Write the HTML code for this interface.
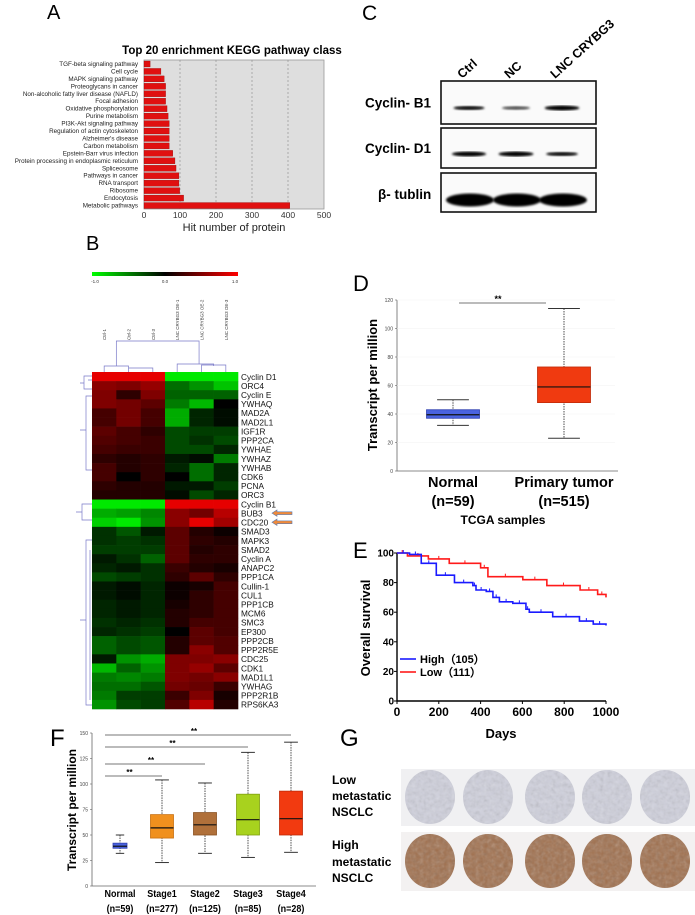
<!DOCTYPE html>
<html><head><meta charset="utf-8"><style>
body{margin:0;background:#fff}
svg{display:block;font-family:"Liberation Sans",Arial,sans-serif}
</style></head><body>
<svg id="fig" width="695" height="915" viewBox="0 0 695 915">
<defs>
<filter id="blur1"><feGaussianBlur stdDeviation="2"/></filter>
<filter id="blur2"><feGaussianBlur stdDeviation="1"/></filter>
<filter id="tex"><feTurbulence type="fractalNoise" baseFrequency="0.25" numOctaves="2" seed="3"/><feColorMatrix type="saturate" values="0"/><feComponentTransfer><feFuncA type="table" tableValues="0 0.35"/></feComponentTransfer><feComposite in2="SourceGraphic" operator="in"/></filter>
</defs>
<g id="gA"></g>
<g id="gB"></g>
<g id="gC"></g>
<g id="gD"></g>
<g id="gE"></g>
<g id="gF"></g>
<g id="gG"></g>
</svg>
<script>
// ---- Panel A data
const keggPathways=["TGF-beta signaling pathway","Cell cycle","MAPK signaling pathway","Proteoglycans in cancer","Non-alcoholic fatty liver disease (NAFLD)","Focal adhesion","Oxidative phosphorylation","Purine metabolism","PI3K-Akt signaling pathway","Regulation of actin cytoskeleton","Alzheimer's disease","Carbon metabolism","Epstein-Barr virus infection","Protein processing in endoplasmic reticulum","Spliceosome","Pathways in cancer","RNA transport","Ribosome","Endocytosis","Metabolic pathways"];
const keggHits=[17,47,56,60,60,60,64,67,70,70,70,70,80,86,89,97,97,99,110,405];
const keggTicks=[0,100,200,300,400,500];
// ---- Panel B data
const heatGenes=["Cyclin D1","ORC4","Cyclin E","YWHAQ","MAD2A","MAD2L1","IGF1R","PPP2CA","YWHAE","YWHAZ","YWHAB","CDK6","PCNA","ORC3","Cyclin B1","BUB3","CDC20","SMAD3","MAPK3","SMAD2","Cyclin A","ANAPC2","PPP1CA","Cullin-1","CUL1","PPP1CB","MCM6","SMC3","EP300","PPP2CB","PPP2R5E","CDC25","CDK1","MAD1L1","YWHAG","PPP2R1B","RPS6KA3"];
const heatSamples=["Ctrl-1","Ctrl-2","Ctrl-3","LNC CRYBG3 OE-1","LNC CRYBG3 OE-2","LNC CRYBG3 OE-3"];
const heatValues=[
[1,1,1,-.95,-.95,-.95],[.6,.55,.65,-.45,-.6,-.8],[.55,.2,.55,-.4,-.4,-.4],[.55,.5,.4,-.5,-.75,0],
[.3,.5,.3,-.7,-.15,-.05],[.3,.5,.3,-.7,-.15,-.05],[.4,.3,.2,-.3,-.25,-.25],[.35,.3,.25,-.3,-.2,-.3],
[.3,.25,.25,-.3,-.3,-.15],[.2,.15,.2,-.1,-.05,-.5],[.3,.15,.2,-.15,-.45,-.15],[.3,0,.2,0,-.45,-.15],
[.2,.15,.15,-.1,-.1,-.25],[.15,.15,.15,-.05,-.3,-.15],[-.95,-.95,-.95,1,1,1],[-.7,-.65,-.55,.6,.5,.8],
[-.85,-.95,-.6,.6,1,.7],[-.2,-.35,-.1,.4,.15,.05],[-.2,-.25,-.2,.4,.2,.15],[-.25,-.25,-.25,.4,.15,.2],
[-.1,-.2,-.4,.4,.2,.2],[-.15,-.1,-.2,.25,.15,.1],[-.3,-.25,-.2,.2,.4,.2],[-.1,-.05,-.15,.05,.1,.3],
[-.1,-.05,-.15,.05,.2,.3],[-.15,-.1,-.15,.1,.2,.3],[-.15,-.1,-.15,.15,.2,.3],[-.2,-.15,-.2,.15,.3,.3],
[-.15,-.2,-.25,0,.4,.3],[-.4,-.3,-.35,.15,.4,.35],[-.4,-.3,-.35,.15,.6,.35],[-.1,-.6,-.7,.55,.55,.6],
[-.75,-.4,-.6,.55,.65,.4],[-.5,-.55,-.5,.55,.5,.6],[-.45,-.45,-.35,.5,.45,.25],[-.5,-.25,-.25,.25,.55,.1],
[-.6,-.3,-.25,.35,.8,.15]];
// ---- Panel C data
const blotLanes=["Ctrl","NC","LNC CRYBG3"];
const blotProteins=["Cyclin- B1","Cyclin- D1","\u03b2- tublin"];
const blotIntensity=[[0.6,0.35,0.9],[0.85,0.9,0.6],[1,1,1]];
// ---- Panel D data
const dGroups=["Normal","Primary tumor"];
const dN=["(n=59)","(n=515)"];
const dMin=[32,23],dQ1=[37,48],dMed=[39.5,59],dQ3=[43,73],dMax=[50,114];
const dTicks=[0,20,40,60,80,100,120];
// ---- Panel E data
const eDaysHigh=[0,60,116,188,275,363,378,427,459,490,554,617,633,745,873,939,1000];
const eSurvHigh=[100,99,93,85,80,78,75,74,70,67,66,62,60,57,54,52,51];
const eDaysLow=[0,50,150,250,400,435,602,717,876,960,1000];
const eSurvLow=[100,98,96,93,90,84,82,78,75,72,70];
const eTicksX=[0,200,400,600,800,1000];
const eTicksY=[0,20,40,60,80,100];
// ---- Panel F data
const fGroups=["Normal","Stage1","Stage2","Stage3","Stage4"];
const fN=["(n=59)","(n=277)","(n=125)","(n=85)","(n=28)"];
const fMin=[32,23,32,28,33],fQ1=[37,47,50,50,50],fMed=[39,57,60,65,66],fQ3=[42,70,72,90,93],fMax=[50,104,101,131,141];
const fTicks=[0,25,50,75,100,125,150];

const NS="http://www.w3.org/2000/svg";
function el(parent,tag,attrs,text){const e=document.createElementNS(NS,tag);for(const k in attrs)e.setAttribute(k,attrs[k]);if(text!==undefined)e.textContent=text;parent.appendChild(e);return e;}

// ===== Panel A
(function(){
const g=document.getElementById('gA');
const t=el(g,'text',{x:47,y:19,'font-size':20},'A');

const ti=el(g,'text',{x:232,y:54,'font-size':11.5,'font-weight':'bold','text-anchor':'middle'},'Top 20 enrichment KEGG pathway class');

const x0=144,x1=324,y0=60,y1=209;
const xs=v=>x0+(v/500)*(x1-x0);
const rowH=(y1-y0)/keggPathways.length;
const bg=el(g,'rect',{x:x0,y:y0,width:x1-x0,height:y1-y0,fill:'#dedede',stroke:'#999','stroke-width':0.8});

keggTicks.forEach(v=>{
 if(v>0&&v<500){const l=el(g,'line',{x1:xs(v),x2:xs(v),y1:y0,y2:y1,stroke:'#888','stroke-dasharray':'2,2','stroke-width':0.6});}
 const tl=el(g,'text',{x:xs(v),y:y1+9,'font-size':8.5,'text-anchor':'middle',fill:'#333'},String(v));
 
});
keggPathways.forEach((p,i)=>{
 const y=y0+i*rowH;
 const b=el(g,'rect',{x:x0,y:y+1,width:xs(keggHits[i])-x0,height:rowH-1.5,fill:'#e01010',stroke:'#8a0000','stroke-width':0.3});
 
 
 const l=el(g,'text',{x:138,y:y+rowH-1.5,'font-size':6.3,'text-anchor':'end',fill:'#222'},p);
 
});
const xt=el(g,'text',{x:234,y:231,'font-size':11,'text-anchor':'middle',fill:'#222'},'Hit number of protein');

})();

// ===== Panel B
(function(){
const g=document.getElementById('gB');
const t=el(g,'text',{x:86,y:250,'font-size':20},'B');

const x0=92,x1=238,y0=372,y1=709;
const cw=(x1-x0)/heatSamples.length,rh=(y1-y0)/heatGenes.length;
const lg=el(document.querySelector('defs'),'linearGradient',{id:'cbar'});
el(lg,'stop',{offset:'0%','stop-color':'#00ff00'});el(lg,'stop',{offset:'50%','stop-color':'#000'});el(lg,'stop',{offset:'100%','stop-color':'#ff0000'});
const cb=el(g,'rect',{x:x0,y:272,width:x1-x0,height:4,fill:'url(#cbar)'});

[['-1.0',x0+3],['0.0',165],['1.0',x1-3]].forEach(a=>{const tl=el(g,'text',{x:a[1],y:283,'font-size':4.5,'text-anchor':'middle',fill:'#333'},a[0]);});
function col(v){const r=v>0?Math.round(230*v):0,gg=v<0?Math.round(245*-v):0;return `rgb(${r},${gg},0)`;}
heatValues.forEach((row,i)=>row.forEach((v,j)=>{
 const c=el(g,'rect',{x:x0+j*cw,y:y0+i*rh,width:cw+0.3,height:rh+0.3,fill:col(v)});
 
}));
heatGenes.forEach((n,i)=>{
 const l=el(g,'text',{x:x1+3,y:y0+(i+1)*rh-1.3,'font-size':8.3,fill:'#111'},n);
 
});
heatSamples.forEach((s,j)=>{
 const cx=x0+(j+0.5)*cw+2;
 const l=el(g,'text',{x:cx,y:340,'font-size':4.5,fill:'#333',transform:`rotate(-90 ${cx} 340)`},s);
 
});
const dc='#7a7ac8';
const dp=el(g,'path',{fill:'none',stroke:dc,'stroke-width':0.7,d:
 `M${x0+cw*0.5} 372 V366 H${x0+cw*1.5} V372 M${x0+cw*1.5} 369 V368 H${x0+cw*2.5} V372 M${x0+cw} 366 V341 H${x0+cw*4.4} V364 M${x0+cw*3.5} 372 V364 H${x0+cw*5} V366 M${x0+cw*4.5} 372 V365 H${x0+cw*5.5} V372 `+
 `M92 376 H84 V389 H92 M84 383 H80 M92 380 H88 M92 396 H86 V470 H92 M86 430 H80 M92 504 H82 V520 H92 M82 512 H76 M92 540 H86 V705 H92 M86 620 H80 M90 550 V700`});

[15,16].forEach(i=>{
 const y=y0+(i+0.5)*rh;
 const a=el(g,'path',{d:`M272 ${y} l5 -3.2 v1.8 h15 v2.8 h-15 v1.8 z`,fill:'#f08a3a',stroke:'#5a7ab0','stroke-width':0.6});
 
});
})();

// ===== Panel C
(function(){
const g=document.getElementById('gC');
const t=el(g,'text',{x:362,y:20,'font-size':21},'C');

const laneX=[470,517,563];
blotLanes.forEach((n,i)=>{
 const lx=laneX[i]-8,ly=79;
 const l=el(g,'text',{x:lx,y:ly,'font-size':12.5,'font-weight':'bold',transform:`rotate(-42 ${lx} ${ly})`},n);
 
});
const boxY=[81,128,173],boxH=[43,40,39];
const labX=[365,365,378];
blotProteins.forEach((p,k)=>{
 const l=el(g,'text',{x:labX[k],y:k==2?199:boxY[k]+boxH[k]/2+5,'font-size':13.5,'font-weight':'bold'},p);
 
 const b=el(g,'rect',{x:441,y:boxY[k],width:155,height:boxH[k],fill:'#fafafa',stroke:'#111','stroke-width':1.6});
 
 blotLanes.forEach((n,i)=>{
  const v=blotIntensity[k][i];
  const cy=k==0?108:(k==1?154:200);
  const band=el(g,'ellipse',{cx:laneX[i]+(k==2?0:-1),cy:cy,rx:k==2?24:(k==0?12+6*v:13+5*v),ry:k==2?6.5:1.2+1.4*v,fill:'#000','fill-opacity':Math.min(1,0.35+v),filter:'url(#blur2)'});
  
 });
});
})();

// ===== Box plot helper
function boxplot(g,xc,w,ys,mn,q1,md,q3,mx,fill,stroke){
 const wl=el(g,'line',{x1:xc,x2:xc,y1:ys(mx),y2:ys(mn),stroke:'#222','stroke-dasharray':'1.5,1','stroke-width':0.8});
 
 [mx,mn].forEach(v=>{const c=el(g,'line',{x1:xc-w*0.3,x2:xc+w*0.3,y1:ys(v),y2:ys(v),stroke:'#333','stroke-width':1});});
 const b=el(g,'rect',{x:xc-w/2,y:ys(q3),width:w,height:ys(q1)-ys(q3),fill:fill,stroke:stroke,'stroke-width':0.8});
 
 const m=el(g,'line',{x1:xc-w/2,x2:xc+w/2,y1:ys(md),y2:ys(md),stroke:'#111','stroke-width':1.2});
 
}

// ===== Panel D
(function(){
const g=document.getElementById('gD');
const t=el(g,'text',{x:353,y:291,'font-size':22},'D');

const ax=397,y0=471,ytop=300;
const ys=v=>y0-(v/120)*(y0-ytop);
const axl=el(g,'path',{d:`M${ax} ${ytop} V${y0} H618`,stroke:'#666',fill:'none','stroke-width':0.8});

dTicks.forEach(v=>{
 el(g,'line',{x1:ax-2,x2:ax,y1:ys(v),y2:ys(v),stroke:'#666','stroke-width':0.6});
 if(v>0){const gl=el(g,'line',{x1:ax,x2:615,y1:ys(v),y2:ys(v),stroke:'#f1f1f1','stroke-width':0.6});}
 const tl=el(g,'text',{x:ax-4,y:ys(v)+1.8,'font-size':5,'text-anchor':'end',fill:'#444'},String(v));
 
});
const cx=[453,564];
const fills=['#4a63e0','#f03a10'],strokes=['#3040b0','#c02a08'];
dGroups.forEach((n,i)=>{
 boxplot(g,cx[i],53,ys,dMin[i],dQ1[i],dMed[i],dQ3[i],dMax[i],fills[i],strokes[i]);
 const l=el(g,'text',{x:cx[i],y:487,'font-size':14.5,'font-weight':'bold','text-anchor':'middle'},n);
 
 const l2=el(g,'text',{x:cx[i],y:506,'font-size':14.5,'font-weight':'bold','text-anchor':'middle'},dN[i]);
 
});
const sl=el(g,'line',{x1:459,x2:546,y1:303,y2:303,stroke:'#777','stroke-width':1});

const st=el(g,'text',{x:498,y:302,'font-size':9,'font-weight':'bold','text-anchor':'middle'},'**');

const yt=el(g,'text',{x:377,y:385,'font-size':13,'font-weight':'bold','text-anchor':'middle',transform:'rotate(-90 377 385)'},'Transcript per million');

const xt=el(g,'text',{x:503,y:524,'font-size':12,'font-weight':'bold','text-anchor':'middle'},'TCGA samples');

})();

// ===== Panel E
(function(){
const g=document.getElementById('gE');
const t=el(g,'text',{x:353,y:558,'font-size':22},'E');

const ax=397,y0=701,ytop=553,x1=606;
const xs=d=>ax+(d/1000)*(x1-ax),ys=v=>y0-(v/100)*(y0-ytop);
const axl=el(g,'path',{d:`M${ax} ${ytop} V${y0} H${x1}`,stroke:'#000',fill:'none','stroke-width':1.4});

eTicksY.forEach(v=>{
 el(g,'line',{x1:ax-3,x2:ax,y1:ys(v),y2:ys(v),stroke:'#000','stroke-width':1});
 const tl=el(g,'text',{x:ax-3,y:ys(v)+3.5,'font-size':10,'font-weight':'bold','text-anchor':'end'},String(v));
 
});
eTicksX.forEach(v=>{
 el(g,'line',{x1:xs(v),x2:xs(v),y1:y0,y2:y0+3,stroke:'#000','stroke-width':1});
 const tl=el(g,'text',{x:xs(v),y:y0+15,'font-size':12,'font-weight':'bold','text-anchor':'middle'},String(v));
 
});
function curve(days,surv,color,name){
 let d=`M${xs(days[0])} ${ys(surv[0])}`;
 for(let i=1;i<days.length;i++){d+=` H${xs(days[i])} V${ys(surv[i])}`;}
 const p=el(g,'path',{d:d,fill:'none',stroke:color,'stroke-width':1.6});
 
 for(let i=1;i<days.length;i++){
  const xm=(xs(days[i-1])+xs(days[i]))/2;
  const c=el(g,'line',{x1:xm,x2:xm,y1:ys(surv[i-1]),y2:ys(surv[i-1])-3,stroke:color,'stroke-width':1});
  
 }
}
curve(eDaysLow,eSurvLow,'#ff1a1a','survival-curve-low');
curve(eDaysHigh,eSurvHigh,'#1a1aff','survival-curve-high');
[['#1a1aff','High（105）',663],['#ff1a1a','Low（111）',676]].forEach(a=>{
 const l=el(g,'line',{x1:400,x2:416,y1:a[2]-4,y2:a[2]-4,stroke:a[0],'stroke-width':1.6});
 
 const tx=el(g,'text',{x:420,y:a[2],'font-size':11,'font-weight':'bold'},a[1]);
 
});
const yt=el(g,'text',{x:370,y:628,'font-size':13,'font-weight':'bold','text-anchor':'middle',transform:'rotate(-90 370 628)'},'Overall survival');

const xt=el(g,'text',{x:501,y:738,'font-size':13,'font-weight':'bold','text-anchor':'middle'},'Days');

})();

// ===== Panel F
(function(){
const g=document.getElementById('gF');
const t=el(g,'text',{x:50,y:746,'font-size':24},'F');

const ax=92,y0=886,ytop=733;
const ys=v=>y0-(v/150)*(y0-ytop);
const axl=el(g,'path',{d:`M${ax} ${ytop} V${y0} H316`,stroke:'#666',fill:'none','stroke-width':0.8});

fTicks.forEach(v=>{
 el(g,'line',{x1:ax-2,x2:ax,y1:ys(v),y2:ys(v),stroke:'#666','stroke-width':0.6});
 const tl=el(g,'text',{x:ax-4,y:ys(v)+1.8,'font-size':5,'text-anchor':'end',fill:'#444'},String(v));
 
});
const cx=[120,162,205,248,291],w=[14,23,23,23,23];
const fills=['#4a63e0','#f0901e','#b0703a','#a8d21e','#f23a10'],strokes=['#3040b0','#c87010','#8a5020','#80a010','#c02a08'];
fGroups.forEach((n,i)=>{
 boxplot(g,cx[i],w[i],ys,fMin[i],fQ1[i],fMed[i],fQ3[i],fMax[i],fills[i],strokes[i]);
 const l=el(g,'text',{x:cx[i],y:897,'font-size':10,'font-weight':'bold','text-anchor':'middle',transform:`scale(0.9,1) translate(${cx[i]/0.9-cx[i]},0)`},n);
 
 const l2=el(g,'text',{x:cx[i],y:912,'font-size':10,'font-weight':'bold','text-anchor':'middle',transform:`scale(0.9,1) translate(${cx[i]/0.9-cx[i]},0)`},fN[i]);
 
});
const sigY=[776,764,747,735];
sigY.forEach((y,k)=>{
 const s=el(g,'line',{x1:105,x2:cx[k+1],y1:y,y2:y,stroke:'#777','stroke-width':1});
 
 const st=el(g,'text',{x:(105+cx[k+1])/2-4,y:y-1,'font-size':8,'font-weight':'bold','text-anchor':'middle'},'**');
 
});
const yt=el(g,'text',{x:76,y:810,'font-size':12,'font-weight':'bold','text-anchor':'middle',transform:'rotate(-90 76 810)'},'Transcript per million');

})();

// ===== Panel G
(function(){
const g=document.getElementById('gG');
const t=el(g,'text',{x:340,y:746,'font-size':24},'G');

[['Low',784],['metastatic',800],['NSCLC',816],['High',849],['metastatic',866],['NSCLC',882]].forEach(a=>{
 const l=el(g,'text',{x:332,y:a[1],'font-size':12,'font-weight':'bold'},a[0]);
 
});
const bgl=el(g,'rect',{x:401,y:769,width:294,height:57,fill:'#f0f0f2'});

const bgh=el(g,'rect',{x:401,y:832,width:294,height:59,fill:'#f3f1f1'});

const cxs=[430,488,550,607,665];
cxs.forEach(cx=>{
 const c=el(g,'ellipse',{cx:cx,cy:797,rx:25,ry:27,fill:'#cfd0dc'});
 
 el(g,'ellipse',{cx:cx,cy:797,rx:25,ry:27,fill:'#8a8aa0',filter:'url(#tex)'});
 const h=el(g,'ellipse',{cx:cx,cy:861,rx:25,ry:27,fill:'#a0704e'});
 
 el(g,'ellipse',{cx:cx,cy:861,rx:25,ry:27,fill:'#e8dcd8',filter:'url(#tex)'});
});
})();
</script>
</body></html>
